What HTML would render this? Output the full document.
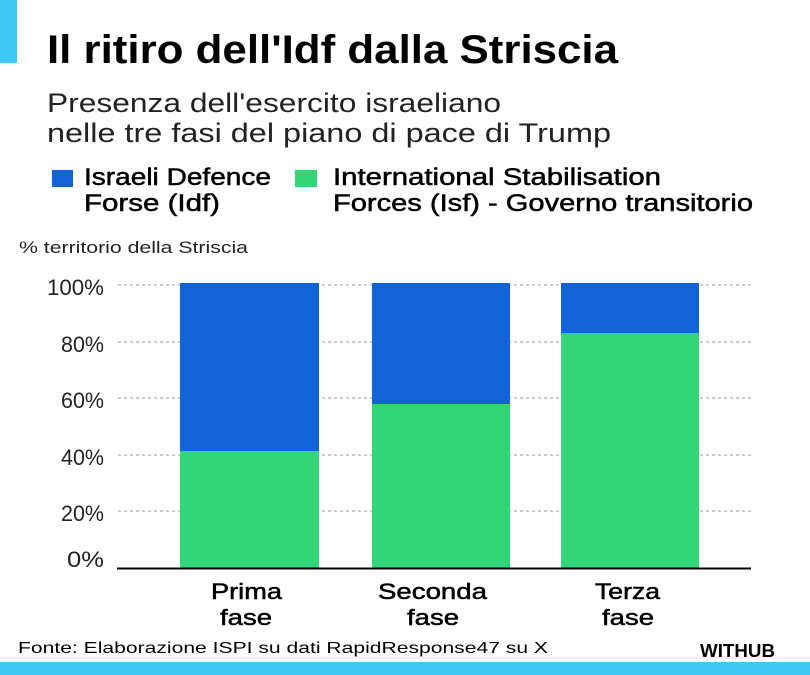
<!DOCTYPE html>
<html><head><style>body{margin:0;background:#fff}svg{display:block}</style></head><body>
<svg width="810" height="675" xmlns="http://www.w3.org/2000/svg" font-family="Liberation Sans, sans-serif">
<rect width="810" height="675" fill="#fff"/>
<rect x="0" y="0" width="17" height="63" fill="#3fc8f4"/>
<rect x="0" y="662" width="810" height="13" fill="#3fc8f4"/>
<text x="47" y="63" font-size="40" font-weight="bold" textLength="571" lengthAdjust="spacingAndGlyphs">Il ritiro dell'Idf dalla Striscia</text>
<text x="47" y="112" font-size="27" fill="#222" textLength="454" lengthAdjust="spacingAndGlyphs">Presenza dell'esercito israeliano</text>
<text x="47" y="142" font-size="27" fill="#222" textLength="564" lengthAdjust="spacingAndGlyphs">nelle tre fasi del piano di pace di Trump</text>
<rect x="52" y="170" width="21" height="17" fill="#1163d6"/>
<rect x="295" y="170" width="22" height="17" fill="#33d676"/>
<g font-size="24" stroke="#000" stroke-width="0.5">
<text x="84" y="185" textLength="187" lengthAdjust="spacingAndGlyphs">Israeli Defence</text>
<text x="84" y="211" textLength="136" lengthAdjust="spacingAndGlyphs">Forse (Idf)</text>
<text x="333" y="185" textLength="328" lengthAdjust="spacingAndGlyphs">International Stabilisation</text>
<text x="333" y="211" textLength="420" lengthAdjust="spacingAndGlyphs">Forces (Isf) - Governo transitorio</text>
</g>
<text x="19" y="253" font-size="17" fill="#222" textLength="229" lengthAdjust="spacingAndGlyphs">% territorio della Striscia</text>
<g stroke="#999" stroke-dasharray="3,3" stroke-width="1">
<line x1="118" y1="285" x2="753" y2="285"/><line x1="118" y1="342" x2="753" y2="342"/><line x1="118" y1="398" x2="753" y2="398"/><line x1="118" y1="455" x2="753" y2="455"/><line x1="118" y1="511" x2="753" y2="511"/>
</g>
<g font-size="22" fill="#222" text-anchor="end">
<text x="104" y="295" textLength="57" lengthAdjust="spacingAndGlyphs">100%</text><text x="104" y="352" textLength="43" lengthAdjust="spacingAndGlyphs">80%</text><text x="104" y="408" textLength="43" lengthAdjust="spacingAndGlyphs">60%</text><text x="104" y="465" textLength="43" lengthAdjust="spacingAndGlyphs">40%</text><text x="104" y="521" textLength="43" lengthAdjust="spacingAndGlyphs">20%</text><text x="104" y="567" textLength="37" lengthAdjust="spacingAndGlyphs">0%</text>
</g>
<rect x="180" y="283" width="139" height="285" fill="#1163d6"/>
<rect x="180" y="451" width="139" height="117" fill="#33d676"/>
<rect x="372" y="283" width="138" height="285" fill="#1163d6"/>
<rect x="372" y="404" width="138" height="164" fill="#33d676"/>
<rect x="561" y="283" width="138" height="285" fill="#1163d6"/>
<rect x="561" y="333" width="138" height="235" fill="#33d676"/>
<line x1="117" y1="568.5" x2="751" y2="568.5" stroke="#000" stroke-width="2"/>
<g font-size="22" stroke="#000" stroke-width="0.5">
<text x="211" y="599" textLength="71" lengthAdjust="spacingAndGlyphs">Prima</text><text x="220" y="625" textLength="52" lengthAdjust="spacingAndGlyphs">fase</text>
<text x="378" y="599" textLength="109" lengthAdjust="spacingAndGlyphs">Seconda</text><text x="407" y="625" textLength="52" lengthAdjust="spacingAndGlyphs">fase</text>
<text x="595" y="599" textLength="65" lengthAdjust="spacingAndGlyphs">Terza</text><text x="602" y="625" textLength="52" lengthAdjust="spacingAndGlyphs">fase</text>
</g>
<text x="18" y="653" font-size="16" textLength="530" lengthAdjust="spacingAndGlyphs">Fonte: Elaborazione ISPI su dati RapidResponse47 su X</text>
<text x="700" y="657" font-size="18" font-weight="bold" textLength="75" lengthAdjust="spacingAndGlyphs">WITHUB</text>
</svg>
</body></html>
